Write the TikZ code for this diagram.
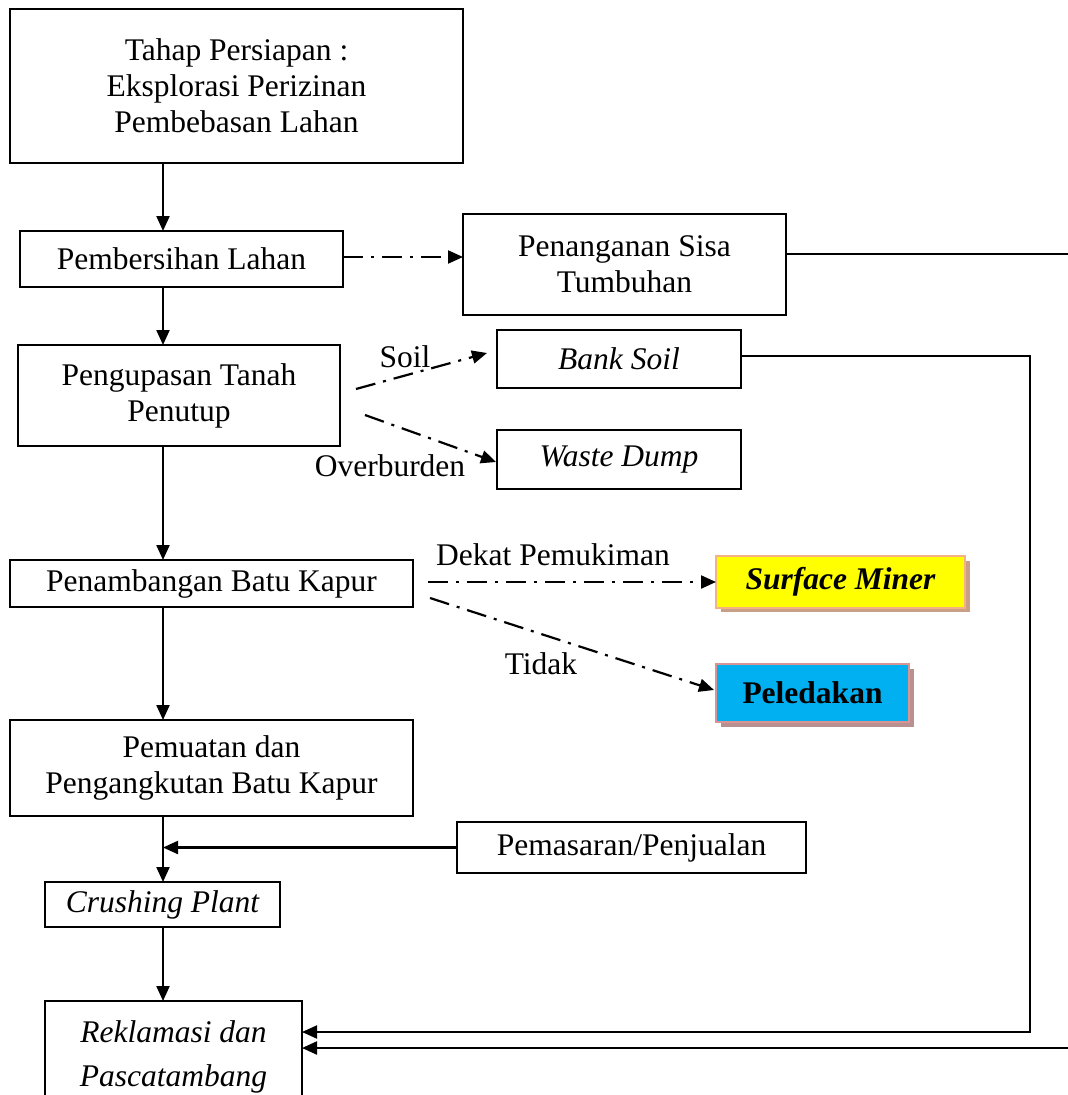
\documentclass[tikz,border=0pt]{standalone}
\usepackage{fontspec}
\setmainfont{Liberation Serif}
\usetikzlibrary{arrows.meta,positioning}
\definecolor{minerfill}{HTML}{FFFF00}
\definecolor{minerborder}{HTML}{F4B183}
\definecolor{minershadow}{HTML}{C9A085}
\definecolor{ledakfill}{HTML}{00B0F0}
\definecolor{ledakborder}{HTML}{D99594}
\definecolor{ledakshadow}{HTML}{B89090}
\begin{document}
\begin{tikzpicture}[x=1pt,y=-1pt,
  font=\fontsize{31.5}{36}\selectfont,
  box/.style={draw,line width=2pt,align=center,inner sep=0pt,outer sep=0pt},
  arr/.style={line width=2.2pt,-{Triangle[length=15pt,width=13pt]}},
  dd/.style={line width=2.2pt,dash pattern=on 20pt off 8pt on 3pt off 8pt,-{Triangle[length=15pt,width=13pt]}},
  lbl/.style={inner sep=0pt}]
\useasboundingbox (0,0) rectangle (1068,1095);
% boxes
\node[box,minimum width=453pt,minimum height=154pt] (top) at (236.5,86) {Tahap Persiapan :\\Eksplorasi Perizinan\\Pembebasan Lahan};
\node[box,minimum width=323pt,minimum height=56pt] (bersih) at (181.5,259) {Pembersihan Lahan};
\node[box,minimum width=323pt,minimum height=101pt] (sisa) at (624.5,264.5) {Penanganan Sisa\\Tumbuhan};
\node[box,minimum width=322pt,minimum height=101pt] (kupas) at (179,395.5) {Pengupasan Tanah\\Penutup};
\node[box,minimum width=244pt,minimum height=58pt] (bank) at (619,359) {\itshape Bank Soil};
\node[box,minimum width=244pt,minimum height=59pt] (waste) at (619,459.5) {\itshape Waste Dump};
\node[box,minimum width=403pt,minimum height=47pt] (tambang) at (211.5,583.5) {Penambangan Batu Kapur};
\fill[minershadow] (720.5,561) rectangle (969.5,612);
\node[box,draw=minerborder,fill=minerfill,line width=2.5pt,minimum width=249pt,minimum height=52pt] (miner) at (840.5,582) {\bfseries\itshape Surface Miner};
\fill[ledakshadow] (720.5,669) rectangle (913.5,727);
\node[box,draw=ledakborder,fill=ledakfill,line width=2.5pt,minimum width=193pt,minimum height=58pt] (ledak) at (812.5,693) {\bfseries Peledakan};
\node[box,minimum width=403pt,minimum height=96pt] (muat) at (211.5,768) {Pemuatan dan\\Pengangkutan Batu Kapur};
\node[box,minimum width=349pt,minimum height=51pt] (pasar) at (631.5,847.5) {Pemasaran/Penjualan};
\node[box,minimum width=235pt,minimum height=45pt] (crush) at (162.5,904.5) {\itshape Crushing Plant};
\node[box,minimum width=257pt,minimum height=112pt] (rek) at (173.5,1057) {\itshape Reklamasi dan\\[8pt]\itshape Pascatambang};
% column coordinate
\coordinate (col) at (163,0);
% vertical flow
\draw[arr] (top.south -| col) -- (bersih.north -| col);
\draw[arr] (bersih.south -| col) -- (kupas.north -| col);
\draw[arr] (kupas.south -| col) -- (tambang.north -| col);
\draw[arr] (tambang.south -| col) -- (muat.north -| col);
\draw[arr] (muat.south -| col) -- (crush.north -| col);
\draw[arr] (crush.south -| col) -- (rek.north -| col);
\draw[arr] (pasar.west) -- (pasar.west -| col);
% dash-dot branches
\coordinate (b1) at (343,257);
\draw[dd] (b1) -- (sisa.west |- b1);
\coordinate (s1) at (356,389);
\coordinate (s2) at (487,353);
\draw[dd] (s1) -- (s2);
\node[lbl] (soil) at (405,357) {Soil};
\coordinate (o1) at (365,415);
\coordinate (o2) at (496,462);
\draw[dd] (o1) -- (o2);
\node[lbl] (ob) at (390,466) {Overburden};
\coordinate (t1) at (428,582);
\draw[dd] (t1) -- (miner.west |- t1);
\node[lbl] (dekat) at (553,555) {Dekat Pemukiman};
\coordinate (t2) at (430,598);
\coordinate (t3) at (714,690);
\draw[dd] (t2) -- (t3);
\node[lbl] (tidak) at (541,664) {Tidak};
% return lines
\coordinate (sisaout) at (1080,254);
\draw[line width=2.2pt] (sisa.east |- sisaout) -- (sisaout);
\coordinate (r1) at (1030,1032);
\draw[arr,line width=2pt] (bank.east |- 0,356) -| (r1) -- (rek.east |- r1);
\coordinate (r2) at (1080,1048);
\draw[arr] (r2) -- (rek.east |- r2);
\end{tikzpicture}
\end{document}
